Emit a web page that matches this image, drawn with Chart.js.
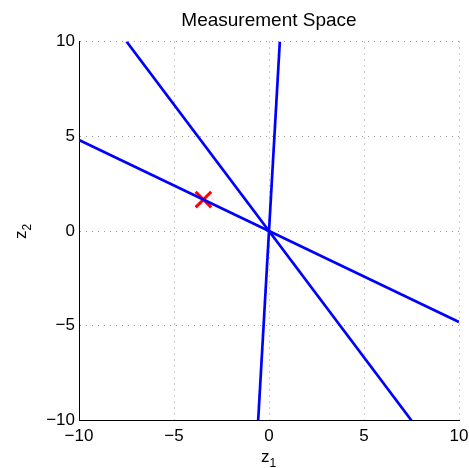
<!DOCTYPE html>
<html>
<head>
<meta charset="utf-8">
<script src="https://cdn.jsdelivr.net/npm/chart.js@4/dist/chart.umd.min.js"></script>
<style>
  html, body { margin: 0; padding: 0; background: #fff; }
  #wrap { width: 469px; height: 468px; }
</style>
</head>
<body>
<div id="wrap"><canvas id="chart" width="469" height="468"></canvas></div>
<script>
// Lines through the origin (end points)
const lineAx = [-10, 10];
const lineAy = [4.8, -4.8];
const lineBx = [-7.5, 7.5];
const lineBy = [10, -10];
const lineCx = [0.57, -0.57];
const lineCy = [10, -10];
// Red cross marker
const markX = [-3.45];
const markY = [1.66];
// Axis ticks
const tickValues = [-10, -5, 0, 5, 10];

const FONT = "'Liberation Sans', Arial, sans-serif";

function pts(xs, ys) {
    return xs.map((x, i) => ({ x: x, y: ys[i] }));
}

function fmt(v) {
    return v < 0 ? '\u2212' + Math.abs(v) : String(v);
}

// Title and axis labels (z with subscripts)
const labelsPlugin = {
    id: 'labels',
    afterDraw(chart) {
        const ctx = chart.ctx;
        const area = chart.chartArea;
        const cx = (area.left + area.right) / 2;
        const cy = (area.top + area.bottom) / 2;
        ctx.save();
        ctx.fillStyle = '#000';
        ctx.textBaseline = 'alphabetic';

        ctx.font = '19px ' + FONT;
        ctx.textAlign = 'center';
        ctx.fillText('Measurement Space', cx, 26);

        // x label: z1
        ctx.textAlign = 'left';
        ctx.font = '17px ' + FONT;
        const zw = ctx.measureText('z').width;
        ctx.fillText('z', cx - 8, 462);
        ctx.font = '12px ' + FONT;
        ctx.fillText('1', cx - 8 + zw, 467);

        // y label: z2 (rotated)
        ctx.translate(26, cy + 8);
        ctx.rotate(-Math.PI / 2);
        ctx.font = '17px ' + FONT;
        ctx.fillText('z', 0, 0);
        ctx.font = '12px ' + FONT;
        ctx.fillText('2', zw, 5);
        ctx.restore();
    }
};

new Chart(document.getElementById('chart'), {
    type: 'scatter',
    data: {
        datasets: [
            { data: pts(lineAx, lineAy), showLine: true, borderColor: '#0000ff', borderWidth: 2.7, pointRadius: 0 },
            { data: pts(lineBx, lineBy), showLine: true, borderColor: '#0000ff', borderWidth: 2.7, pointRadius: 0 },
            { data: pts(lineCx, lineCy), showLine: true, borderColor: '#0000ff', borderWidth: 2.7, pointRadius: 0 },
            { data: pts(markX, markY), pointStyle: 'crossRot', pointRadius: 11, borderColor: '#ff0000', backgroundColor: '#ff0000', pointBorderWidth: 3 }
        ]
    },
    options: {
        responsive: false,
        animation: false,
        layout: { autoPadding: false, padding: { top: 41.5, right: 0, left: 0, bottom: 0 } },
        plugins: {
            legend: { display: false },
            title: { display: false },
            tooltip: { enabled: false }
        },
        scales: {
            x: {
                type: 'linear',
                min: -10,
                max: 10,
                afterBuildTicks(scale) { scale.ticks = tickValues.map(v => ({ value: v })); },
                afterFit(scale) {
                    scale.height = 47.5;
                    scale.paddingLeft = 0;
                    scale.paddingRight = 10;
                },
                grid: { color: '#999999', lineWidth: 1, drawTicks: false },
                border: { display: true, color: '#000', width: 1, dash: [1, 5] },
                ticks: { color: '#000', font: { family: FONT, size: 17 }, padding: 6, maxRotation: 0, callback: v => fmt(v) }
            },
            y: {
                type: 'linear',
                min: -10,
                max: 10,
                afterBuildTicks(scale) { scale.ticks = tickValues.map(v => ({ value: v })); },
                afterFit(scale) {
                    scale.width = 79;
                    scale.paddingTop = 0;
                    scale.paddingBottom = 0;
                },
                grid: { color: '#999999', lineWidth: 1, drawTicks: false },
                border: { display: true, color: '#000', width: 1, dash: [1, 5] },
                ticks: { color: '#000', font: { family: FONT, size: 17 }, padding: 4, callback: v => fmt(v) }
            }
        }
    },
    plugins: [labelsPlugin]
});
</script>
</body>
</html>
